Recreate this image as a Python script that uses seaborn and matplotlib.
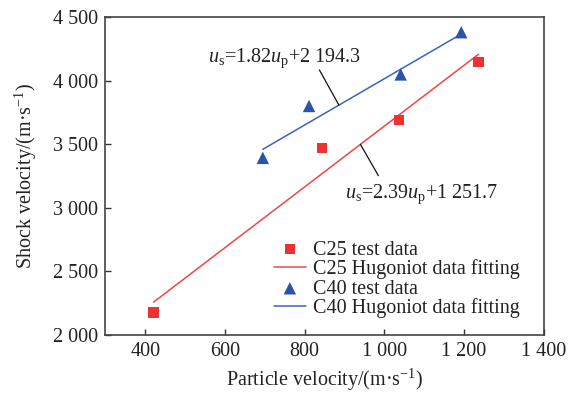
import numpy as np
import pandas as pd
import matplotlib
matplotlib.use("Agg")
import matplotlib.pyplot as plt
from matplotlib.ticker import FuncFormatter
import seaborn as sns

# test data
c25_up = [421, 843, 1036, 1236]
c25_us = [2175, 3472, 3690, 4144]
c40_up = [695, 811, 1041, 1193]
c40_us = [3392, 3800, 4048, 4380]

# Hugoniot fits: us = a*up + b
c25_fit = (2.39, 1251.7)
c40_fit = (1.82, 2194.3)

red = "#ee3131"
blue = "#2b53a6"
red_line = "#f24545"
blue_line = "#3b63bf"

FS = 14.5

sns.set_theme(style="ticks")
plt.rcParams["font.family"] = ["Liberation Serif", "DejaVu Serif"]
plt.rcParams["mathtext.fontset"] = "custom"
plt.rcParams["mathtext.rm"] = "Liberation Serif"
plt.rcParams["mathtext.it"] = "Liberation Serif:italic"
plt.rcParams["font.size"] = FS

df25 = pd.DataFrame({"up": c25_up, "us": c25_us})
df40 = pd.DataFrame({"up": c40_up, "us": c40_us})
fx25 = np.array([min(c25_up), max(c25_up)])
fx40 = np.array([min(c40_up), max(c40_up)])
fit25 = pd.DataFrame({"up": fx25, "us": c25_fit[0] * fx25 + c25_fit[1]})
fit40 = pd.DataFrame({"up": fx40, "us": c40_fit[0] * fx40 + c40_fit[1]})

fig = plt.figure(figsize=(5.76, 3.94), dpi=100)
ax = fig.add_axes([0.183, 0.150, 0.761, 0.807])

sns.scatterplot(data=df25, x="up", y="us", marker="s", color=red, s=55,
                edgecolor="none", label="C25 test data", ax=ax, zorder=3)
sns.lineplot(data=fit25, x="up", y="us", color=red_line, lw=1.1,
             label="C25 Hugoniot data fitting", ax=ax)
sns.scatterplot(data=df40, x="up", y="us", marker="^", color=blue, s=80,
                edgecolor="none", label="C40 test data", ax=ax, zorder=3)
sns.lineplot(data=fit40, x="up", y="us", color=blue_line, lw=1.1,
             label="C40 Hugoniot data fitting", ax=ax)

ax.set_xlim(300, 1400)
ax.set_ylim(2000, 4500)
ax.set_xticks([400, 600, 800, 1000, 1200, 1400])
ax.set_yticks([2000, 2500, 3000, 3500, 4000, 4500])
fmt = FuncFormatter(lambda v, p: "{:,}".format(int(v)).replace(",", " "))
ax.xaxis.set_major_formatter(fmt)
ax.yaxis.set_major_formatter(fmt)
ax.tick_params(direction="in", length=4, width=1, colors="#333333",
               labelcolor="#222222", labelsize=FS, pad=5)
for sp in ax.spines.values():
    sp.set_color("#444444")
    sp.set_linewidth(1.2)

ax.set_xlabel("Particle velocity/(m·s$^{-1}$)", fontsize=FS, color="#222222",
              labelpad=4)
ax.set_ylabel("Shock velocity/(m·s$^{-1}$)", fontsize=FS, color="#222222",
              labelpad=10)

# equation labels with leader lines
x1 = 886
ax.annotate("", xy=(x1, c40_fit[0] * x1 + c40_fit[1]), xytext=(837, 4083),
            arrowprops=dict(arrowstyle="-", color="#111111", lw=0.9, shrinkA=0, shrinkB=0))
ax.text(557, 4149, r"$u_{\mathrm{s}}$=1.82$u_{\mathrm{p}}$+2 194.3",
        fontsize=FS, ha="left", va="baseline", color="#222222")
x2 = 940
ax.annotate("", xy=(x2, c25_fit[0] * x2 + c25_fit[1]), xytext=(985, 3252),
            arrowprops=dict(arrowstyle="-", color="#111111", lw=0.9, shrinkA=0, shrinkB=0))
ax.text(900, 3077, r"$u_{\mathrm{s}}$=2.39$u_{\mathrm{p}}$+1 251.7",
        fontsize=FS, ha="left", va="baseline", color="#222222")

ax.legend(loc="upper left", bbox_to_anchor=(0.384, 0.297), frameon=False,
          fontsize=FS, borderpad=0, borderaxespad=0, labelspacing=0.0,
          handlelength=1.6, handletextpad=0.35, labelcolor="#222222")

fig.savefig("out.png", dpi=100)
